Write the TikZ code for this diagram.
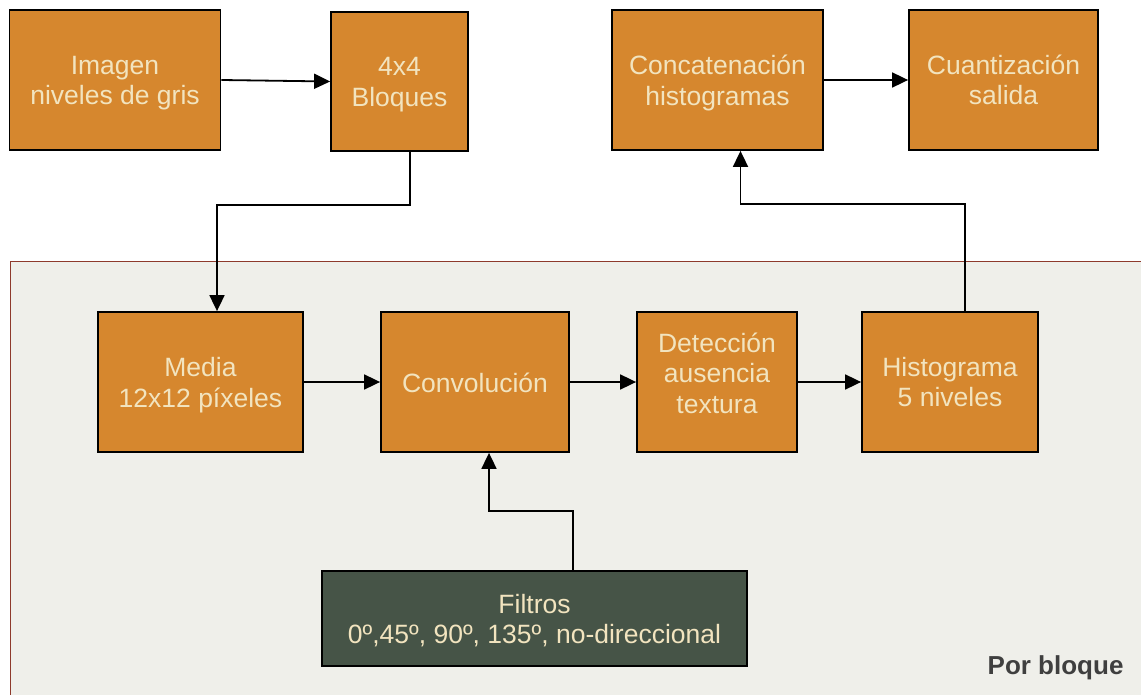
\documentclass[tikz,border=0pt]{standalone}
\usepackage{fontspec}
\setmainfont{Liberation Sans}
\usetikzlibrary{arrows.meta}
\definecolor{boxorange}{HTML}{D6872E}
\definecolor{boxtext}{HTML}{F2E4BF}
\definecolor{filtgreen}{HTML}{465447}
\definecolor{panelbg}{HTML}{EFEFEA}
\definecolor{panelline}{HTML}{8E3A2C}
\definecolor{labelgray}{HTML}{3F3F3F}
\tikzset{
  stage/.style={draw=black, line width=1.8pt, fill=boxorange, inner sep=0pt},
  filterbox/.style={stage, fill=filtgreen},
  boxtxt/.style={text=boxtext, align=center, inner sep=0pt,
    font=\fontsize{26.5}{30.5}\selectfont},
  arr/.style={line width=1.8pt, -{Triangle[length=16pt,width=15pt]}},
}
\begin{document}
\begin{tikzpicture}[x=1pt, y=-1pt]
\useasboundingbox (0,0) rectangle (1141,695);
\fill[white] (0,0) rectangle (1141,695);
% per-block processing panel
\draw[panelline, fill=panelbg, line width=1pt] (10,262) rectangle (1160,720);

% top row
\node[stage, minimum width=211pt, minimum height=140pt,
  label={[boxtxt, yshift=-3pt]center:Imagen\\niveles de gris}] (img) at (115,80) {};
\node[stage, minimum width=137pt, minimum height=139pt,
  label={[boxtxt, yshift=-3pt]center:4x4\\Bloques}] (blk) at (399.5,81.5) {};
\node[stage, minimum width=211pt, minimum height=140pt,
  label={[boxtxt, yshift=-3pt]center:Concatenación\\histogramas}] (cat) at (717.5,80) {};
\node[stage, minimum width=189pt, minimum height=140pt,
  label={[boxtxt, yshift=0pt]center:Cuantización\\salida}] (cua) at (1003.5,80) {};

% per-block row
\node[stage, minimum width=205pt, minimum height=140pt,
  label={[boxtxt, yshift=-3pt]center:Media\\12x12 píxeles}] (med) at (200.5,382) {};
\node[stage, minimum width=188pt, minimum height=140pt,
  label={[boxtxt, yshift=-1pt]center:Convolución}] (conv) at (475,382) {};
\node[stage, minimum width=160pt, minimum height=140pt,
  label={[boxtxt, yshift=9pt]center:Detección\\ausencia\\textura}] (det) at (717,382) {};
\node[stage, minimum width=176pt, minimum height=140pt,
  label={[boxtxt, yshift=0pt]center:Histograma\\5 niveles}] (his) at (950,382) {};

% filter bank
\node[filterbox, minimum width=425pt, minimum height=95pt,
  label={[boxtxt, yshift=-2pt]center:Filtros\\0º,45º, 90º, 135º, no-direccional}] (fil) at (534.5,618.5) {};

\node[anchor=east, font=\fontsize{26}{30}\selectfont\bfseries, text=labelgray] (lbl) at (1127,668) {Por bloque};

% connectors
\draw[arr] (img.east) -- (blk.west);
\draw[arr] (cat.east) -- (cua.west);
\draw[arr] ([xshift=10.5pt]blk.south) -- ++(0,53) -| ([xshift=16.5pt]med.north);
\draw[arr] (med.east) -- (conv.west);
\draw[arr] (conv.east) -- (det.west);
\draw[arr] (det.east) -- (his.west);
\draw[arr] ([xshift=15pt]his.north) -- ++(0,-107) -| ([xshift=23pt]cat.south);
\draw[arr] ([xshift=38.5pt]fil.north) -- ++(0,-59) -| ([xshift=14pt]conv.south);
\end{tikzpicture}
\end{document}
